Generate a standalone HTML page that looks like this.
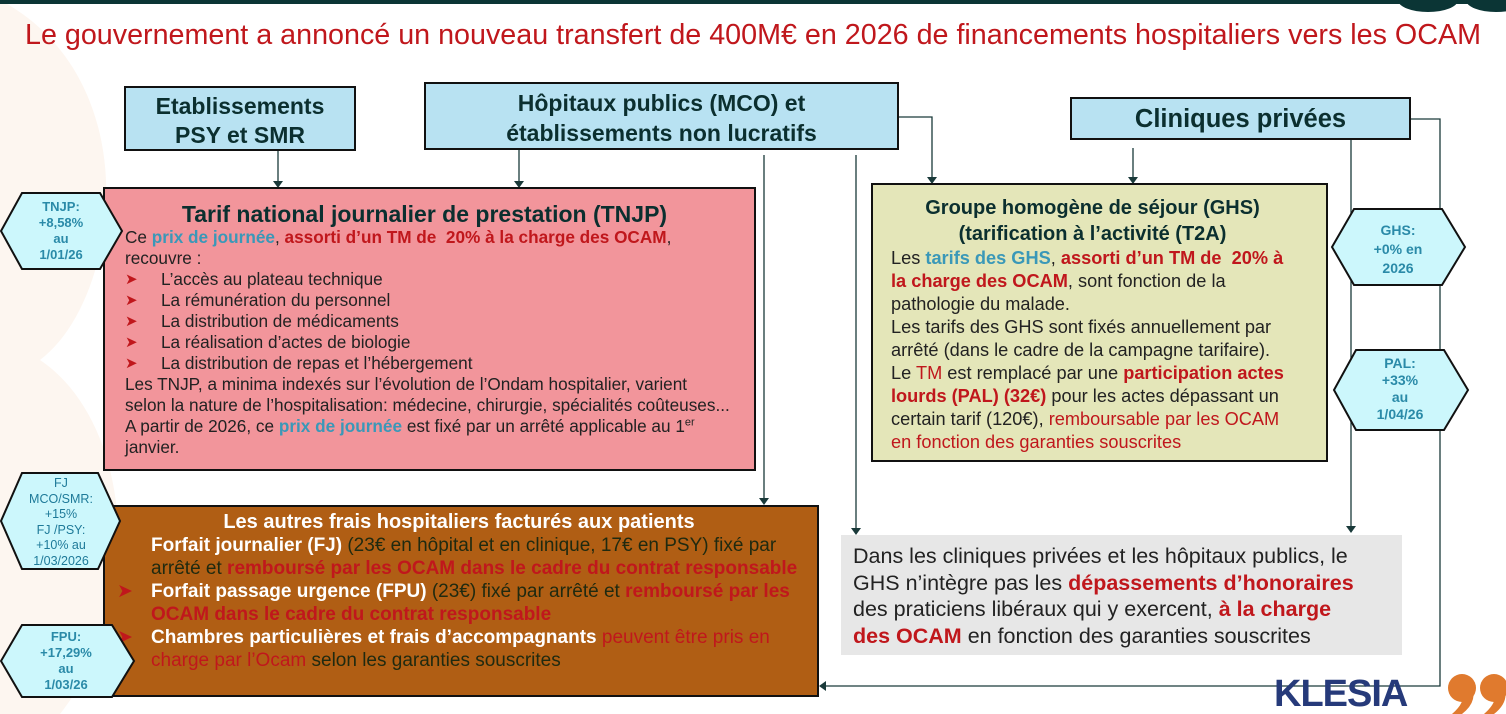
<!DOCTYPE html>
<html><head><meta charset="utf-8"><style>
html,body{margin:0;width:1506px;height:714px;overflow:hidden;background:#fff;font-family:"Liberation Sans",Arial,sans-serif;position:relative}
#w{position:absolute;left:0;top:0;width:1506px;height:714px;overflow:hidden}
.a{position:absolute;box-sizing:border-box}
.hdr{background:#b8e2f2;border:2px solid #111;color:#0b2f2f;font-weight:bold;text-align:center}
.r{color:#c0171c;font-weight:bold}
.rn{color:#c0171c}
.b{color:#3a98b8;font-weight:bold}
.hex{position:absolute;color:#2a8aa8;font-weight:bold;text-align:center;font-size:13px;line-height:16px}
ul{margin:0;padding:0;list-style:none}
li{position:relative;padding-left:36px}
li:before{content:"➤";color:#c0171c;position:absolute;left:0;font-size:15px}
</style></head><body><div id="w">
<svg class="a" style="left:0;top:0" width="1506" height="714">
<path d="M0 0 C150 80 120 300 40 360 C130 420 150 600 60 714 L0 714Z" fill="#fdf6f0"/>
<rect x="0" y="0" width="1506" height="4" fill="#0b3535"/>
<ellipse cx="1428" cy="0" rx="30" ry="12" fill="#0b3535"/>
<ellipse cx="1496" cy="0" rx="30" ry="12" fill="#0b3535"/>
<g stroke="#1a3a3a" stroke-width="1.3" fill="none">
<line x1="278" y1="151" x2="278" y2="182"/>
<line x1="519" y1="150" x2="519" y2="182"/>
<line x1="764" y1="155" x2="764" y2="500"/>
<line x1="856" y1="155" x2="856" y2="530"/>
<polyline points="898,117 932,117 932,178"/>
<line x1="1133" y1="148" x2="1133" y2="178"/>
<line x1="1351" y1="139" x2="1351" y2="528"/>
<polyline points="1411,119 1440,119 1440,686 824,686"/>
</g>
<g fill="#1a3a3a">
<path d="M273 181 L283 181 L278 188Z"/>
<path d="M514 181 L524 181 L519 188Z"/>
<path d="M759 498 L769 498 L764 505Z"/>
<path d="M851 528 L861 528 L856 535Z"/>
<path d="M927 177 L937 177 L932 184Z"/>
<path d="M1128 177 L1138 177 L1133 184Z"/>
<path d="M1346 526 L1356 526 L1351 533Z"/>
<path d="M826 681 L826 691 L819 686Z"/>
</g>
</svg>

<div class="a" style="left:0;top:19px;width:1506px;text-align:center;color:#c0171c;font-size:28.7px;white-space:nowrap">Le gouvernement a annoncé un nouveau transfert de 400M€ en 2026 de financements hospitaliers vers les OCAM</div>

<div class="a hdr" style="left:124px;top:86px;width:232px;height:65px;font-size:23px;line-height:29px;padding-top:4px">Etablissements<br>PSY et SMR</div>
<div class="a hdr" style="left:424px;top:82px;width:475px;height:68px;font-size:23px;line-height:30px;padding-top:4px">Hôpitaux publics (MCO) et<br>établissements non lucratifs</div>
<div class="a hdr" style="left:1070px;top:97px;width:341px;height:43px;font-size:25.5px;line-height:40px">Cliniques privées</div>

<div class="a" style="left:103px;top:187px;width:653px;height:284px;background:#f2959b;border:2px solid #111;padding:12px 10px 0 20px;font-size:17.2px;line-height:21px;color:#222">
<div style="text-align:center;font-weight:bold;font-size:23px;line-height:26px;color:#0b2f2f;margin-left:-20px">Tarif national journalier de prestation (TNJP)</div>
Ce <span class="b">prix de journée</span>, <span class="r">assorti d’un TM de &nbsp;20% à la charge des OCAM</span>,<br>recouvre :
<ul><li>L’accès au plateau technique</li><li>La rémunération du personnel</li><li>La distribution de médicaments</li><li>La réalisation d’actes de biologie</li><li>La distribution de repas et l’hébergement</li></ul>
Les TNJP, a minima indexés sur l’évolution de l’Ondam hospitalier, varient<br>selon la nature de l’hospitalisation: médecine, chirurgie, spécialités coûteuses...<br>A partir de 2026, ce <span class="b">prix de journée</span> est fixé par un arrêté applicable au 1<sup style="font-size:11px;line-height:0">er</sup><br>janvier.
</div>

<div class="a" style="left:871px;top:183px;width:457px;height:279px;background:#e4e6b9;border:2px solid #111;padding:10px 14px 0 18px;font-size:18.2px;line-height:23px;color:#222">
<div style="text-align:center;font-weight:bold;font-size:20px;line-height:26px;color:#0b2f2f;margin-left:-18px">Groupe homogène de séjour (GHS)<br>(tarification à l’activité (T2A)</div>
Les <span class="b">tarifs des GHS</span>, <span class="r">assorti d’un TM de &nbsp;20% à<br>la charge des OCAM</span>, sont fonction de la<br>pathologie du malade.<br>Les tarifs des GHS sont fixés annuellement par<br>arrêté (dans le cadre de la campagne tarifaire).<br>Le <span class="rn">TM</span> est remplacé par une <span class="r">participation actes<br>lourds (PAL) (32€)</span> pour les actes dépassant un<br>certain tarif (120€), <span class="rn">remboursable par les OCAM<br>en fonction des garanties souscrites</span>
</div>

<div class="a" style="left:103px;top:505px;width:716px;height:192px;background:#b05e14;border:2px solid #111;padding:3px 4px 0 46px;font-size:19px;line-height:23px;color:#1f2a10;overflow:hidden">
<div style="text-align:center;font-weight:bold;font-size:20px;line-height:24px;color:#fff;margin-left:-46px">Les autres frais hospitaliers facturés aux patients</div>
<b style="color:#fff">Forfait journalier (FJ)</b> (23€ en hôpital et en clinique, 17€ en PSY) fixé par arrêté et <span class="r">remboursé par les OCAM dans le cadre du contrat responsable</span><br>
<span style="position:absolute;left:12px;color:#c0171c">➤</span><b style="color:#fff">Forfait passage urgence (FPU)</b> (23€) fixé par arrêté et <span class="r">remboursé par les OCAM dans le cadre du contrat responsable</span><br>
<span style="position:absolute;left:12px;color:#c0171c">➤</span><b style="color:#fff">Chambres particulières et frais d’accompagnants</b> <span class="rn">peuvent être pris en charge par l’Ocam</span> selon les garanties souscrites
</div>

<div class="a" style="left:841px;top:535px;width:561px;height:120px;background:#e7e7e7;padding:8px 4px 0 12px;font-size:21.5px;line-height:26.5px;color:#222">Dans les cliniques privées et les hôpitaux publics, le<br>GHS n’intègre pas les <span class="r">dépassements d’honoraires</span><br>des praticiens libéraux qui y exercent, <span class="r">à la charge<br>des OCAM</span> en fonction des garanties souscrites</div>

<svg class="a" style="left:0;top:0" width="1506" height="714">
<g fill="#ccf7fc" stroke="#111" stroke-width="2">
<polygon points="22,193 100,193 122,231 100,269 22,269 1,231"/>
<polygon points="22,473 98,473 120,521 98,569 22,569 1,521"/>
<polygon points="22,625 112,625 134,661 112,697 22,697 1,661"/>
<polygon points="1354,209 1442,209 1465,247 1442,285 1354,285 1332,247"/>
<polygon points="1356,350 1444,350 1468,390 1444,430 1356,430 1334,390"/>
</g>
<text x="1274" y="706" font-family="Liberation Sans, Arial, sans-serif" font-weight="bold" font-size="38" fill="#263a7a" letter-spacing="-1">KLESIA</text>
<g fill="#e07a2e">
<circle cx="1462" cy="688" r="14"/>
<path d="M1470 682 Q1480 700 1462 714 L1452 714 Q1466 702 1462 692Z"/>
<circle cx="1494" cy="688" r="14"/>
<path d="M1502 682 Q1512 700 1494 714 L1484 714 Q1498 702 1494 692Z"/>
</g>
</svg>

<div class="hex" style="left:20px;top:199px;width:82px">TNJP:<br>+8,58%<br>au<br>1/01/26</div>
<div class="hex" style="left:20px;top:476px;width:82px;font-weight:normal;font-size:12.5px;line-height:15.5px;color:#1e7a99">FJ<br>MCO/SMR:<br>+15%<br>FJ /PSY:<br>+10% au<br>1/03/2026</div>
<div class="hex" style="left:20px;top:629px;width:92px">FPU:<br>+17,29%<br>au<br>1/03/26</div>
<div class="hex" style="left:1354px;top:221px;width:88px;font-size:14px;line-height:19px">GHS:<br>+0% en<br>2026</div>
<div class="hex" style="left:1356px;top:355px;width:88px;font-size:14px;line-height:17px">PAL:<br>+33%<br>au<br>1/04/26</div>
</div></body></html>
